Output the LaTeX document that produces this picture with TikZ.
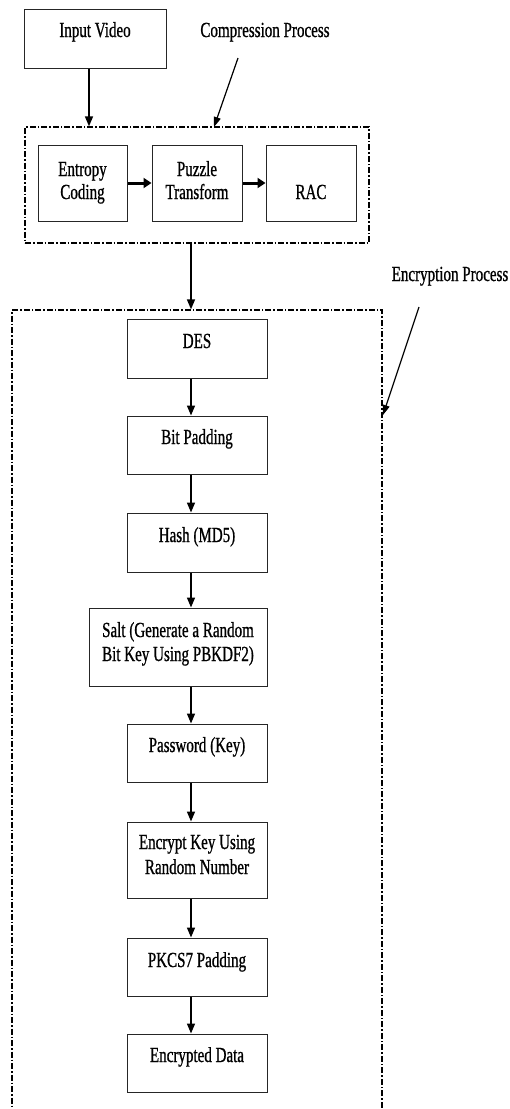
\documentclass[tikz,border=0pt]{standalone}
\usepackage{fontspec}
\setmainfont{Liberation Serif}[FakeStretch=0.7,FakeBold=0.8]
\usetikzlibrary{arrows.meta}
\begin{document}
\begin{tikzpicture}[x=1pt,y=-1pt,
  box/.style={draw=black!85, line width=1pt, rectangle, inner sep=0pt},
  lbl/.style={anchor=base, inner sep=0pt, font=\fontsize{21.5}{24}\selectfont},
  dbox/.style={draw=black, line width=1.3pt, rectangle, inner sep=0pt,
     dash pattern=on 6pt off 2pt on 1.5pt off 2pt},
  arr/.style={line width=1.5pt, -{Triangle[length=10pt,width=8pt]}},
  tarr/.style={line width=3pt, -{Triangle[length=8pt,width=10pt]}},
  larr/.style={line width=1.2pt, -{Triangle[length=10pt,width=7pt]}}]
\useasboundingbox (0,0) rectangle (509,1109);
\clip (0,0) rectangle (509,1109);
\fill[white] (0,0) rectangle (509,1109);

% Input video
\node[box, minimum width=142pt, minimum height=59pt] (inp) at (95,38.5) {};
\node[lbl] (inpt) at (95,37) {Input Video};

% compression
\node[lbl] (compl) at (265,37) {Compression Process};
\node[dbox, minimum width=344pt, minimum height=116pt] (comp) at (197,185) {};
\coordinate (ca) at (238,58);
\coordinate (cb) at (214,127);
\draw[larr] (ca) -- (cb);

\node[box, minimum width=89pt, minimum height=76pt] (ent) at (82.5,183) {};
\node[lbl] at (82.5,176) {Entropy};
\node[lbl] at (82.5,199) {Coding};
\node[box, minimum width=90pt, minimum height=76pt] (puz) at (197,183) {};
\node[lbl] at (197,176) {Puzzle};
\node[lbl] at (197,199) {Transform};
\node[box, minimum width=90pt, minimum height=76pt] (rac) at (311,183) {};
\node[lbl] at (311,199) {RAC};

\draw[tarr] (ent.east) -- (puz.west);
\draw[tarr] (puz.east) -- (rac.west);

\coordinate (ix) at (89,0);
\draw[arr] (inp.south -| ix) -- (comp.north -| ix);

% encryption
\node[lbl] (encl) at (450,281) {Encryption Process};
\node[dbox, minimum width=370pt, minimum height=830pt] (enc) at (197,725) {};
\coordinate (ea) at (419,307);
\coordinate (eb) at (383,415);
\draw[larr] (ea) -- (eb);

\coordinate (ax) at (191,0);
\draw[arr] (comp.south -| ax) -- (enc.north -| ax);

\node[box, minimum width=140pt, minimum height=59pt] (des) at (197,348.5) {};
\node[lbl] at (197,348) {DES};
\node[box, minimum width=140pt, minimum height=58pt] (bit) at (197,445) {};
\node[lbl] at (197,444) {Bit Padding};
\node[box, minimum width=140pt, minimum height=59pt] (hash) at (197,542.5) {};
\node[lbl] at (197,542) {Hash (MD5)};
\node[box, minimum width=178pt, minimum height=78pt] (salt) at (178,647) {};
\node[lbl] at (178,637) {Salt (Generate a Random};
\node[lbl] at (178,661) {Bit Key Using PBKDF2)};
\node[box, minimum width=140pt, minimum height=58pt] (pass) at (197,753) {};
\node[lbl] at (197,752) {Password (Key)};
\node[box, minimum width=140pt, minimum height=76pt] (ekey) at (197,860) {};
\node[lbl] at (197,849) {Encrypt Key Using};
\node[lbl] at (197,874) {Random Number};
\node[box, minimum width=140pt, minimum height=58pt] (pkcs) at (197,967) {};
\node[lbl] at (197,967) {PKCS7 Padding};
\node[box, minimum width=140pt, minimum height=58pt] (edata) at (197,1063) {};
\node[lbl] at (197,1062) {Encrypted Data};

\draw[arr] (des.south -| ax) -- (bit.north -| ax);
\draw[arr] (bit.south -| ax) -- (hash.north -| ax);
\draw[arr] (hash.south -| ax) -- (salt.north -| ax);
\draw[arr] (salt.south -| ax) -- (pass.north -| ax);
\draw[arr] (pass.south -| ax) -- (ekey.north -| ax);
\draw[arr] (ekey.south -| ax) -- (pkcs.north -| ax);
\draw[arr] (pkcs.south -| ax) -- (edata.north -| ax);
\end{tikzpicture}
\end{document}
